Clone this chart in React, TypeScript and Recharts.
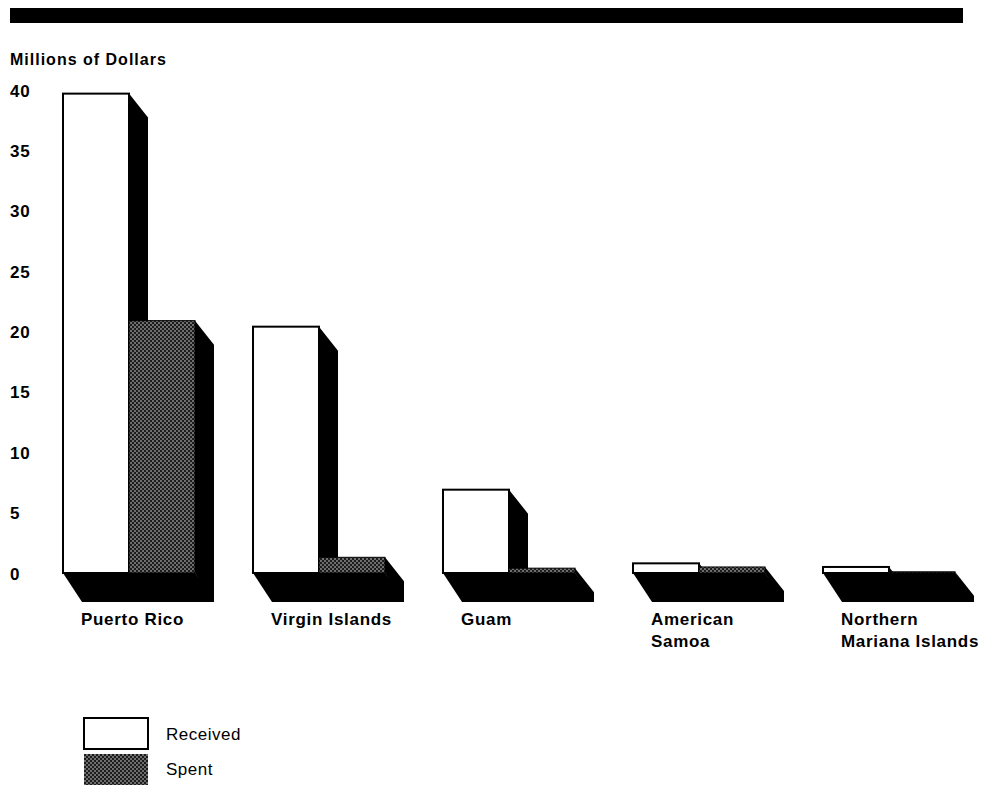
import React from "react";
import { BarChart, Bar, XAxis, YAxis } from "recharts";

const categories = ["Puerto Rico", "Virgin Islands", "Guam", "American Samoa", "Northern Mariana Islands"];
const tickLabels = [["Puerto Rico"], ["Virgin Islands"], ["Guam"], ["American", "Samoa"], ["Northern", "Mariana Islands"]];
const received = [39.7, 20.4, 6.9, 0.8, 0.5];
const spent = [20.9, 1.3, 0.4, 0.5, 0.1];
const yTicks = [0, 5, 10, 15, 20, 25, 30, 35, 40];
const seriesNames = ["Received", "Spent"];
const yTitle = "Millions of Dollars";

const data = categories.map((c, i) => ({ name: c, received: received[i], spent: spent[i] }));

const DX = 19;
const DYS = 24;
const DYF = 29;
const FONT = '"Liberation Sans", Arial, Helvetica, sans-serif';

const ReceivedShape = (props: any) => {
  const { x, y, width, height } = props;
  const base = y + height;
  const floor = `${x},${base} ${x + 2 * width},${base} ${x + 2 * width + DX},${base + DYS} ${x + 2 * width + DX},${base + DYF} ${x + DX},${base + DYF}`;
  const side = `${x + width},${y} ${x + width + DX},${y + DYS} ${x + width + DX},${base + DYF} ${x + width},${base}`;
  return (
    <g>
      <polygon points={floor} fill="#000" />
      <polygon points={side} fill="#000" />
      <rect x={x} y={y} width={width} height={height} fill="#fff" stroke="#000" strokeWidth={2} />
    </g>
  );
};

const SpentShape = (props: any) => {
  const { x, y, width, height } = props;
  const base = y + height;
  const side = `${x + width},${y} ${x + width + DX},${y + DYS} ${x + width + DX},${base + DYF} ${x + width},${base}`;
  return (
    <g>
      <polygon points={side} fill="#000" />
      <rect x={x} y={y} width={width} height={Math.max(height, 0.5)} fill="url(#stipA)" stroke="#000" strokeWidth={1} />
    </g>
  );
};

const YTick = (props: any) => {
  const { y, payload } = props;
  return (
    <text x={10} y={y + 6.5} fontFamily={FONT} fontWeight="bold" fontSize={17} letterSpacing={0.7} fill="#000" textAnchor="start">
      {payload.value}
    </text>
  );
};

const XTick = (props: any) => {
  const { x, y, index } = props;
  const lines = tickLabels[index] || [];
  return (
    <g>
      {lines.map((l, k) => (
        <text key={k} x={x - 48} y={y + 52 + k * 22} fontFamily={FONT} fontWeight="bold" fontSize={17} letterSpacing={0.7} fill="#000" textAnchor="start">
          {l}
        </text>
      ))}
    </g>
  );
};

const Stipple = ({ id }: { id: string }) => (
  <pattern id={id} width={4} height={4} patternUnits="userSpaceOnUse">
    <rect width={4} height={4} fill="#1c1c1c" />
    <circle cx={1} cy={1} r={0.75} fill="#e8e8e8" />
    <circle cx={3} cy={3} r={0.75} fill="#e8e8e8" />
  </pattern>
);

export default function App() {
  return (
    <div style={{ position: "absolute", left: 0, top: 0, width: 993, height: 785, background: "#fff" }}>
      <BarChart
        width={993}
        height={785}
        data={data}
        margin={{ top: 90, right: 9, left: 0, bottom: 152 }}
        barGap={0}
      >
        <defs>
          <Stipple id="stipA" />
        </defs>
        <XAxis dataKey="name" axisLine={false} tickLine={false} tickSize={0} tickMargin={0} height={60} interval={0} tick={<XTick />} />
        <YAxis type="number" domain={[0, 40]} ticks={yTicks} axisLine={false} tickLine={false} width={34} tick={<YTick />} />
        <Bar dataKey="received" name={seriesNames[0]} barSize={66} shape={<ReceivedShape />} isAnimationActive={false} />
        <Bar dataKey="spent" name={seriesNames[1]} barSize={66} shape={<SpentShape />} isAnimationActive={false} />
      </BarChart>
      <svg width={993} height={785} style={{ position: "absolute", left: 0, top: 0, pointerEvents: "none" }}>
        <defs>
          <Stipple id="stipB" />
        </defs>
        <rect x={10} y={8} width={953} height={15} fill="#000" />
        <text x={10} y={65} fontFamily={FONT} fontWeight="bold" fontSize={16} letterSpacing={1} fill="#000">
          {yTitle}
        </text>
        <rect x={84} y={718} width={64} height={31} fill="#fff" stroke="#000" strokeWidth={2} />
        <text x={166} y={740} fontFamily={FONT} fontSize={17} letterSpacing={0.5} fill="#000">
          {seriesNames[0]}
        </text>
        <rect x={84} y={754} width={64} height={32} fill="url(#stipB)" />
        <text x={166} y={775} fontFamily={FONT} fontSize={17} letterSpacing={0.5} fill="#000">
          {seriesNames[1]}
        </text>
      </svg>
    </div>
  );
}
